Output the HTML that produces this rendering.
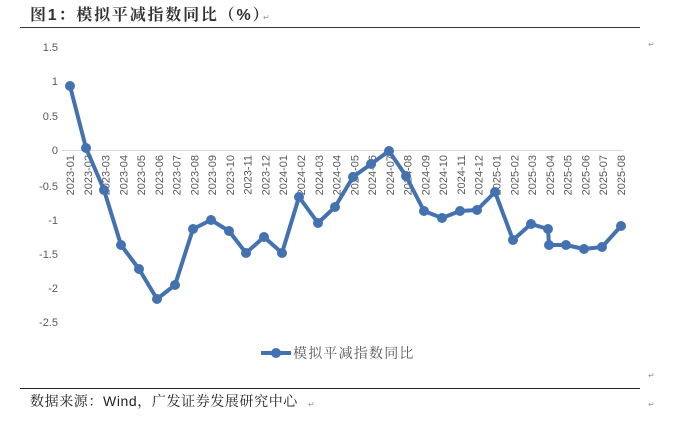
<!DOCTYPE html>
<html><head><meta charset="utf-8"><style>
html,body{margin:0;padding:0;background:#fff;width:678px;height:424px;overflow:hidden}
svg{display:block}
.t{font-family:"Liberation Sans",sans-serif;font-size:11px;fill:#595959}
</style></head><body>
<svg width="678" height="424" viewBox="0 0 678 424">
<text x="30" y="20" font-family="Liberation Sans, Noto Serif CJK SC, sans-serif" font-weight="bold" font-size="16" letter-spacing="1.8" fill="#333">图1：模拟平减指数同比（%）</text>
<text x="263" y="20" font-size="8" fill="#999" font-family="Liberation Sans,sans-serif">↵</text>
<line x1="20" y1="27.5" x2="640" y2="27.5" stroke="#333" stroke-width="1"/>
<text x="648" y="47" font-size="8" fill="#999" font-family="Liberation Sans,sans-serif">↵</text>
<g class="t" text-anchor="end">
<text x="58" y="51">1.5</text><text x="58" y="85">1</text><text x="58" y="120">0.5</text><text x="58" y="154">0</text>
<text x="58" y="190">-0.5</text><text x="58" y="224">-1</text><text x="58" y="258">-1.5</text><text x="58" y="292">-2</text><text x="58" y="326">-2.5</text>
</g>
<line x1="62" y1="150.5" x2="623" y2="150.5" stroke="#d9d9d9" stroke-width="1"/>
<g class="t" text-anchor="end">
<text transform="translate(74,155) rotate(-90)">2023-01</text>
<text transform="translate(91.8,155) rotate(-90)">2023-02</text>
<text transform="translate(109.5,155) rotate(-90)">2023-03</text>
<text transform="translate(127.3,155) rotate(-90)">2023-04</text>
<text transform="translate(145.1,155) rotate(-90)">2023-05</text>
<text transform="translate(162.9,155) rotate(-90)">2023-06</text>
<text transform="translate(180.6,155) rotate(-90)">2023-07</text>
<text transform="translate(198.4,155) rotate(-90)">2023-08</text>
<text transform="translate(216.2,155) rotate(-90)">2023-09</text>
<text transform="translate(233.9,155) rotate(-90)">2023-10</text>
<text transform="translate(251.7,155) rotate(-90)">2023-11</text>
<text transform="translate(269.5,155) rotate(-90)">2023-12</text>
<text transform="translate(287.2,155) rotate(-90)">2024-01</text>
<text transform="translate(305,155) rotate(-90)">2024-02</text>
<text transform="translate(322.8,155) rotate(-90)">2024-03</text>
<text transform="translate(340.6,155) rotate(-90)">2024-04</text>
<text transform="translate(358.3,155) rotate(-90)">2024-05</text>
<text transform="translate(376.1,155) rotate(-90)">2024-06</text>
<text transform="translate(393.9,155) rotate(-90)">2024-07</text>
<text transform="translate(411.6,155) rotate(-90)">2024-08</text>
<text transform="translate(429.4,155) rotate(-90)">2024-09</text>
<text transform="translate(447.2,155) rotate(-90)">2024-10</text>
<text transform="translate(464.9,155) rotate(-90)">2024-11</text>
<text transform="translate(482.7,155) rotate(-90)">2024-12</text>
<text transform="translate(500.5,155) rotate(-90)">2025-01</text>
<text transform="translate(518.3,155) rotate(-90)">2025-02</text>
<text transform="translate(536,155) rotate(-90)">2025-03</text>
<text transform="translate(553.8,155) rotate(-90)">2025-04</text>
<text transform="translate(571.6,155) rotate(-90)">2025-05</text>
<text transform="translate(589.3,155) rotate(-90)">2025-06</text>
<text transform="translate(607.1,155) rotate(-90)">2025-07</text>
<text transform="translate(624.9,155) rotate(-90)">2025-08</text>
</g>
<g fill="#4472b0" stroke="none">
<polyline fill="none" stroke="#4472b0" stroke-width="4" stroke-linejoin="round" points="70,86 86,148 104,190 121,245 139,269 157,299 175,285 193,229 211,220 229,231 246,253 264,237 282,253 299,197 318,223 335,207 353,177 371,164 389,151 406,176 424,211 442,218 460,211 477,210 495,192 513,240 531,224 548,229 549,245 566,245 584,249 602,247 621,226"/>
<circle cx="70" cy="86" r="5"/><circle cx="86" cy="148" r="5"/><circle cx="104" cy="190" r="5"/><circle cx="121" cy="245" r="5"/><circle cx="139" cy="269" r="5"/><circle cx="157" cy="299" r="5"/><circle cx="175" cy="285" r="5"/><circle cx="193" cy="229" r="5"/><circle cx="211" cy="220" r="5"/><circle cx="229" cy="231" r="5"/><circle cx="246" cy="253" r="5"/><circle cx="264" cy="237" r="5"/><circle cx="282" cy="253" r="5"/><circle cx="299" cy="197" r="5"/><circle cx="318" cy="223" r="5"/><circle cx="335" cy="207" r="5"/><circle cx="353" cy="177" r="5"/><circle cx="371" cy="164" r="5"/><circle cx="389" cy="151" r="5"/><circle cx="406" cy="176" r="5"/><circle cx="424" cy="211" r="5"/><circle cx="442" cy="218" r="5"/><circle cx="460" cy="211" r="5"/><circle cx="477" cy="210" r="5"/><circle cx="495" cy="192" r="5"/><circle cx="513" cy="240" r="5"/><circle cx="531" cy="224" r="5"/><circle cx="548" cy="229" r="5"/><circle cx="549" cy="245" r="5"/><circle cx="566" cy="245" r="5"/><circle cx="584" cy="249" r="5"/><circle cx="602" cy="247" r="5"/><circle cx="621" cy="226" r="5"/>
<line x1="261" y1="353" x2="291" y2="353" stroke="#4472b0" stroke-width="4"/>
<circle cx="276" cy="353" r="5"/>
</g>
<text x="293" y="358" font-family="Liberation Sans, Noto Serif CJK SC, sans-serif" font-size="14" letter-spacing="1.2" fill="#595959">模拟平减指数同比</text>
<text x="648" y="378" font-size="8" fill="#999" font-family="Liberation Sans,sans-serif">↵</text>
<line x1="20" y1="388.5" x2="640" y2="388.5" stroke="#222" stroke-width="1"/>
<text x="30" y="406" font-family="Liberation Sans, Noto Serif CJK SC, sans-serif" font-size="14" letter-spacing="0.6" fill="#222">数据来源：Wind，广发证券发展研究中心</text>
<text x="308" y="407" font-size="8" fill="#999" font-family="Liberation Sans,sans-serif">↵</text>
<text x="648" y="407" font-size="8" fill="#999" font-family="Liberation Sans,sans-serif">↵</text>
</svg>
</body></html>
